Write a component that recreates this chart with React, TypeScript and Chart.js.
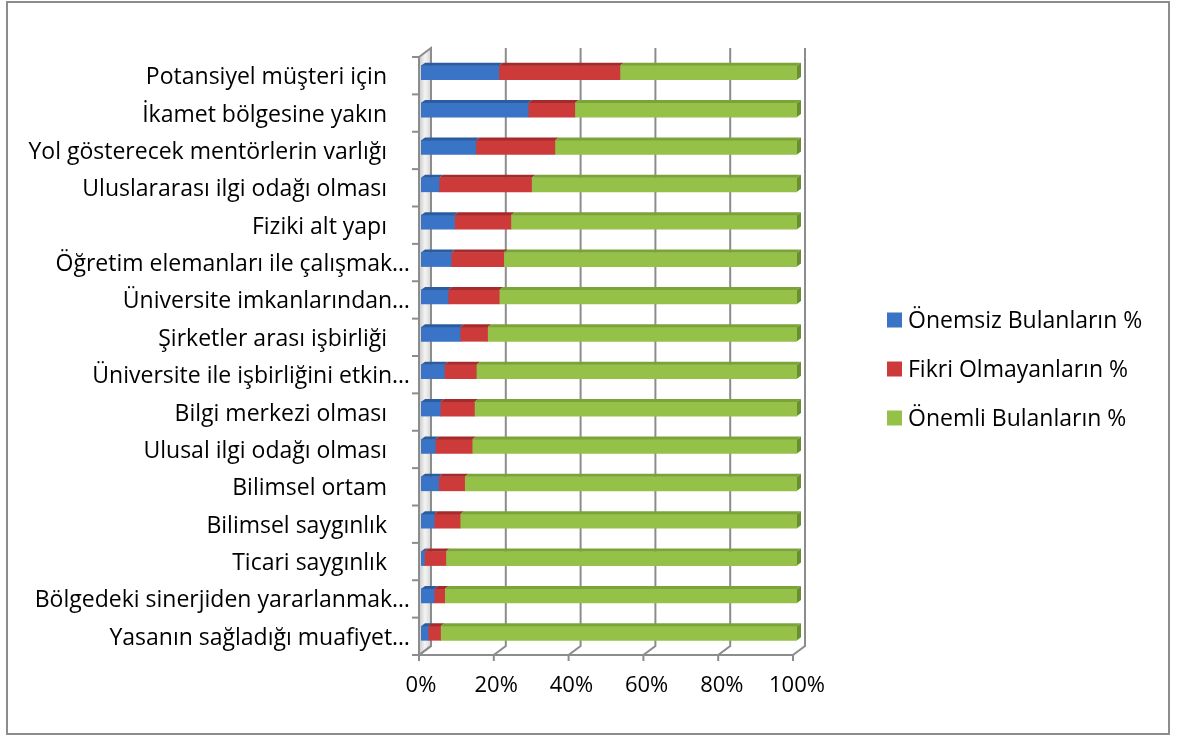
import { useEffect, useRef } from 'react';
import { Chart, registerables } from 'chart.js';

Chart.register(...registerables);

const categories = [
  'Potansiyel müşteri için',
  'İkamet bölgesine yakın',
  'Yol gösterecek mentörlerin varlığı',
  'Uluslararası ilgi odağı olması',
  'Fiziki alt yapı',
  'Öğretim elemanları ile çalışmak…',
  'Üniversite imkanlarından…',
  'Şirketler arası işbirliği',
  'Üniversite ile işbirliğini etkin…',
  'Bilgi merkezi olması',
  'Ulusal ilgi odağı olması',
  'Bilimsel ortam',
  'Bilimsel saygınlık',
  'Ticari saygınlık',
  'Bölgedeki sinerjiden yararlanmak…',
  'Yasanın sağladığı muafiyet…',
];

const unimportant = [20.7, 28.5, 14.6, 4.8, 8.9, 8.0, 7.2, 10.4, 6.2, 5.1, 3.8, 4.7, 3.5, 0.9, 3.5, 1.9];
const noOpinion = [32.2, 12.4, 21.0, 24.6, 15.0, 14.0, 13.6, 7.3, 8.5, 9.1, 9.8, 6.9, 6.9, 5.7, 2.8, 3.3];
const important = [47.1, 59.1, 64.4, 70.6, 76.1, 78.0, 79.2, 82.3, 85.3, 85.8, 86.4, 88.4, 89.6, 93.4, 93.7, 94.8];

const seriesNames = ['Önemsiz Bulanların %', 'Fikri Olmayanların %', 'Önemli Bulanların %'];
const xTickValues = [0, 20, 40, 60, 80, 100];

const FONT = '"Open Sans", sans-serif';
const FRONT = ['#3a74c6', '#cc3a3a', '#95c148'];
const TOPFACE = ['#2b5c9f', '#a32b2b', '#7aa338'];
const SIDEFACE = ['#24508c', '#8f2424', '#6a8f30'];

const DX = 12;
const DY = -9;

const framePlugin = {
  id: 'frame3d',
  beforeDraw(chart: any) {
    const ctx = chart.ctx;
    ctx.save();
    ctx.fillStyle = '#ffffff';
    ctx.fillRect(0, 0, chart.width, chart.height);
    ctx.strokeStyle = '#8c8c8c';
    ctx.lineWidth = 2;
    ctx.strokeRect(7, 2, 1162, 732);
    ctx.restore();
  },
  beforeDatasetsDraw(chart: any) {
    const ctx = chart.ctx;
    const xs = chart.scales.x;
    const area = chart.chartArea;
    const FL = xs.getPixelForValue(0) - 2;
    const FR = xs.getPixelForValue(100) - 4;
    const FT = area.top + 3;
    const FB = area.bottom + 3;
    const fx = (v: number) => FL + ((FR - FL) * v) / 100;
    ctx.save();
    const g = ctx.createLinearGradient(FL, 0, FL + DX, 0);
    g.addColorStop(0, '#c8c8c8');
    g.addColorStop(0.5, '#f4f4f4');
    g.addColorStop(1, '#d4d4d4');
    ctx.beginPath();
    ctx.moveTo(FL, FT);
    ctx.lineTo(FL + DX, FT + DY);
    ctx.lineTo(FL + DX, FB + DY);
    ctx.lineTo(FL, FB);
    ctx.closePath();
    ctx.fillStyle = g;
    ctx.fill();
    ctx.strokeStyle = '#8c8c8c';
    ctx.lineWidth = 2;
    ctx.stroke();
    xTickValues.forEach((v) => {
      const x = fx(v);
      ctx.beginPath();
      ctx.moveTo(x + DX, FT + DY);
      ctx.lineTo(x + DX, FB + DY);
      ctx.lineTo(x, FB);
      ctx.lineTo(x, FB + 6);
      ctx.stroke();
    });
    ctx.beginPath();
    ctx.moveTo(FL, FB);
    ctx.lineTo(FR, FB);
    ctx.stroke();
    const n = categories.length;
    for (let k = 0; k <= n; k++) {
      const y = FT + ((FB - FT) * k) / n;
      ctx.beginPath();
      ctx.moveTo(FL - 7, y);
      ctx.lineTo(FL, y);
      ctx.stroke();
    }
    ctx.restore();
  },
};

const bar3dPlugin = {
  id: 'bar3d',
  afterDatasetsDraw(chart: any) {
    const ctx = chart.ctx;
    const ddx = 4;
    const ddy = -3;
    ctx.save();
    chart.data.datasets.forEach((ds: any, di: number) => {
      const meta = chart.getDatasetMeta(di);
      meta.data.forEach((el: any) => {
        const p = el.getProps(['x', 'y', 'base', 'height'], true);
        const left = Math.min(p.x, p.base);
        const right = Math.max(p.x, p.base);
        if (right - left < 0.1) return;
        const top = p.y - p.height / 2;
        const bottom = p.y + p.height / 2;
        ctx.beginPath();
        ctx.moveTo(left, top);
        ctx.lineTo(left + ddx, top + ddy);
        ctx.lineTo(right + ddx, top + ddy);
        ctx.lineTo(right, top);
        ctx.closePath();
        ctx.fillStyle = TOPFACE[di];
        ctx.fill();
        if (di === chart.data.datasets.length - 1) {
          ctx.beginPath();
          ctx.moveTo(right, top);
          ctx.lineTo(right + ddx, top + ddy);
          ctx.lineTo(right + ddx, bottom + ddy);
          ctx.lineTo(right, bottom);
          ctx.closePath();
          ctx.fillStyle = SIDEFACE[di];
          ctx.fill();
        }
      });
    });
    ctx.restore();
  },
};

const legendPlugin = {
  id: 'customLegend',
  afterDraw(chart: any) {
    const ctx = chart.ctx;
    ctx.save();
    ctx.font = '23px ' + FONT;
    ctx.textBaseline = 'middle';
    ctx.textAlign = 'left';
    chart.data.datasets.forEach((ds: any, i: number) => {
      const cy = 320 + i * 49;
      ctx.fillStyle = FRONT[i];
      ctx.fillRect(887, cy - 7.5, 15, 15);
      ctx.fillStyle = '#000000';
      ctx.fillText(ds.label, 908, cy + 1);
    });
    ctx.restore();
  },
};

export default function App() {
  const ref = useRef<HTMLCanvasElement | null>(null);
  useEffect(() => {
    if (!ref.current) return;
    const chart = new Chart(ref.current, {
      type: 'bar',
      data: {
        labels: categories,
        datasets: [
          { label: seriesNames[0], data: unimportant, backgroundColor: FRONT[0], stack: 's', barThickness: 14, borderWidth: 0 },
          { label: seriesNames[1], data: noOpinion, backgroundColor: FRONT[1], stack: 's', barThickness: 14, borderWidth: 0 },
          { label: seriesNames[2], data: important, backgroundColor: FRONT[2], stack: 's', barThickness: 14, borderWidth: 0 },
        ],
      },
      options: {
        indexAxis: 'y',
        responsive: false,
        animation: false,
        devicePixelRatio: 1,
        layout: { padding: { top: 54, right: 389, left: 0, bottom: 0 } },
        plugins: {
          legend: { display: false },
          tooltip: { enabled: false },
        },
        scales: {
          x: {
            type: 'linear',
            stacked: true,
            min: 0,
            max: 100,
            grid: { display: false, drawTicks: false },
            border: { display: false },
            ticks: {
              stepSize: 20,
              color: '#000',
              padding: 21,
              font: { family: FONT, size: 22 },
              callback: (v: any) => v + '%',
            },
            afterFit: (s: any) => {
              s.height = 84;
            },
          },
          y: {
            type: 'category',
            stacked: true,
            grid: { display: false, drawTicks: false },
            border: { display: false },
            ticks: {
              color: '#000',
              padding: 11,
              autoSkip: false,
              labelOffset: 5,
              font: { family: FONT, size: 23 },
              callback: function (this: any, value: any) {
                const l = this.getLabelForValue(value);
                return l.endsWith('…') ? l : l + '\u2002\u2002';
              },
            },
            afterFit: (s: any) => {
              s.width = 421;
            },
          },
        },
      },
      plugins: [framePlugin, bar3dPlugin, legendPlugin],
    } as any);
    return () => chart.destroy();
  }, []);
  return (
    <div style={{ position: 'absolute', left: 0, top: 0 }}>
      <canvas ref={ref} width={1186} height={736} style={{ display: 'block' }} />
    </div>
  );
}
